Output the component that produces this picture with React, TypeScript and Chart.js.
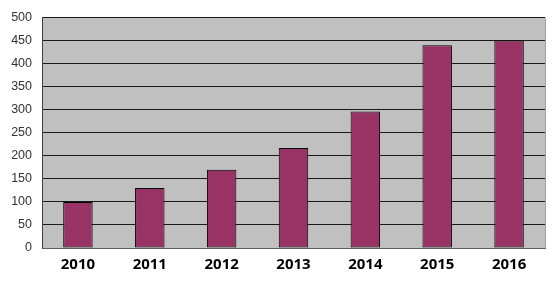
import { useEffect, useRef } from "react";
import { Chart, registerables } from "chart.js";

Chart.register(...registerables);

const categories = ["2010", "2011", "2012", "2013", "2014", "2015", "2016"];
const values = [100, 130, 170, 217, 296, 440, 450];
const yTicks = [0, 50, 100, 150, 200, 250, 300, 350, 400, 450, 500];

const plotBg = {
  id: "plotBg",
  beforeDraw(chart: any) {
    const { ctx, chartArea } = chart;
    ctx.save();
    ctx.fillStyle = "#c0c0c0";
    ctx.fillRect(chartArea.left, chartArea.top, chartArea.right - chartArea.left, chartArea.bottom - chartArea.top);
    ctx.restore();
  },
  afterDraw(chart: any) {
    const { ctx, chartArea } = chart;
    ctx.save();
    ctx.strokeStyle = "#a0a0a0";
    ctx.lineWidth = 1;
    ctx.beginPath();
    ctx.moveTo(Math.round(chartArea.right) + 0.5, chartArea.top);
    ctx.lineTo(Math.round(chartArea.right) + 0.5, chartArea.bottom);
    ctx.stroke();
    ctx.restore();
  },
};

export default function App() {
  const ref = useRef<HTMLCanvasElement>(null);
  useEffect(() => {
    const chart = new Chart(ref.current!, {
      type: "bar",
      data: {
        labels: categories,
        datasets: [
          {
            data: values,
            backgroundColor: "#993366",
            borderColor: "#000000",
            borderWidth: 1,
            borderSkipped: false,
            barPercentage: 0.41,
            categoryPercentage: 1,
          },
        ],
      },
      options: {
        animation: false,
        responsive: false,
        maintainAspectRatio: false,
        layout: { padding: { left: 0, right: 9, top: 15, bottom: 0 } },
        plugins: { legend: { display: false }, tooltip: { enabled: false } },
        scales: {
          x: {
            grid: { display: false, drawTicks: false },
            border: { color: "#606060" },
            ticks: {
              color: "#000",
              padding: 8,
              font: { family: "Noto Sans", size: 15, weight: "bold" },
            },
            afterFit(scale: any) {
              scale.height = 36;
            },
          },
          y: {
            min: 0,
            max: 500,
            afterBuildTicks(scale: any) {
              scale.ticks = yTicks.map((v) => ({ value: v }));
            },
            grid: { color: "#1a1a1a", drawTicks: false },
            border: { color: "#404040" },
            ticks: {
              color: "#333",
              padding: 10,
              font: { family: "Liberation Sans", size: 12.5 },
            },
            afterFit(scale: any) {
              scale.width = 42;
            },
          },
        },
      },
      plugins: [plotBg],
    });
    return () => chart.destroy();
  }, []);
  return (
    <div style={{ position: "fixed", left: 0, top: 0, width: 554, height: 284, background: "#fff" }}>
      <canvas ref={ref} width={554} height={284} style={{ width: 554, height: 284 }} />
    </div>
  );
}
